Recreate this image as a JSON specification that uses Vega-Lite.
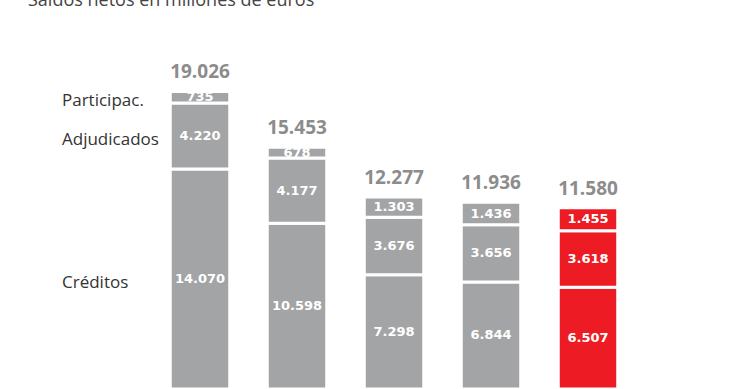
{
  "$schema": "https://vega.github.io/schema/vega-lite/v6.json",
  "width": 740,
  "height": 389,
  "autosize": {"type": "none"},
  "padding": 0,
  "background": "white",
  "title": {
    "text": "Saldos netos en millones de euros",
    "anchor": "start",
    "orient": "top",
    "frame": "group",
    "offset": 0,
    "baseline": "alphabetic",
    "dx": 28,
    "dy": 24,
    "fontSize": 18,
    "font": "Open Sans",
    "fontWeight": "normal",
    "color": "#444444"
  },
  "config": {
    "view": {"stroke": null},
    "locale": {"number": {"decimal": ",", "thousands": ".", "grouping": [3], "currency": ["", " €"]}}
  },
  "datasets": {
    "segmentos": [
      {"periodo": "1", "tipo": "Créditos", "orden": 1, "valor": 14070, "destacado": "no"},
      {"periodo": "1", "tipo": "Adjudicados", "orden": 2, "valor": 4220, "destacado": "no"},
      {"periodo": "1", "tipo": "Participac.", "orden": 3, "valor": 735, "destacado": "no"},
      {"periodo": "2", "tipo": "Créditos", "orden": 1, "valor": 10598, "destacado": "no"},
      {"periodo": "2", "tipo": "Adjudicados", "orden": 2, "valor": 4177, "destacado": "no"},
      {"periodo": "2", "tipo": "Participac.", "orden": 3, "valor": 678, "destacado": "no"},
      {"periodo": "3", "tipo": "Créditos", "orden": 1, "valor": 7298, "destacado": "no"},
      {"periodo": "3", "tipo": "Adjudicados", "orden": 2, "valor": 3676, "destacado": "no"},
      {"periodo": "3", "tipo": "Participac.", "orden": 3, "valor": 1303, "destacado": "no"},
      {"periodo": "4", "tipo": "Créditos", "orden": 1, "valor": 6844, "destacado": "no"},
      {"periodo": "4", "tipo": "Adjudicados", "orden": 2, "valor": 3656, "destacado": "no"},
      {"periodo": "4", "tipo": "Participac.", "orden": 3, "valor": 1436, "destacado": "no"},
      {"periodo": "5", "tipo": "Créditos", "orden": 1, "valor": 6507, "destacado": "si"},
      {"periodo": "5", "tipo": "Adjudicados", "orden": 2, "valor": 3618, "destacado": "si"},
      {"periodo": "5", "tipo": "Participac.", "orden": 3, "valor": 1455, "destacado": "si"}
    ],
    "totales": [
      {"periodo": "1", "total": 19026},
      {"periodo": "2", "total": 15453},
      {"periodo": "3", "total": 12277},
      {"periodo": "4", "total": 11936},
      {"periodo": "5", "total": 11580}
    ]
  },
  "encoding": {
    "x": {
      "field": "periodo",
      "type": "nominal",
      "axis": null,
      "scale": {"range": [151.5, 636.5], "paddingInner": 0.387, "paddingOuter": 0.1935}
    }
  },
  "layer": [
    {
      "data": {"name": "segmentos"},
      "mark": {"type": "bar", "stroke": "white", "strokeWidth": 3, "clip": true},
      "encoding": {
        "y": {"field": "valor", "type": "quantitative", "stack": "zero", "axis": null, "scale": {"domain": [0, 24870], "nice": false}},
        "order": {"field": "orden", "type": "quantitative"},
        "color": {"field": "destacado", "type": "nominal", "legend": null, "scale": {"domain": ["no", "si"], "range": ["#a3a4a6", "#ed1c24"]}}
      }
    },
    {
      "data": {"name": "segmentos"},
      "mark": {"type": "text", "color": "white", "font": "DejaVu Sans", "fontWeight": "bold", "fontSize": 13, "baseline": "middle", "clip": true},
      "encoding": {
        "y": {"field": "valor", "type": "quantitative", "stack": "zero", "bandPosition": 0.5},
        "order": {"field": "orden", "type": "quantitative"},
        "text": {"field": "valor", "type": "quantitative", "format": ",d"}
      }
    },
    {
      "data": {"name": "segmentos"},
      "transform": [{"filter": "datum.periodo === '1'"}],
      "mark": {"type": "text", "color": "#333333", "font": "Open Sans", "fontSize": 17, "align": "left", "baseline": "middle", "dx": -138, "dy": 4},
      "encoding": {
        "y": {"field": "valor", "type": "quantitative", "stack": "zero", "bandPosition": 0.5},
        "order": {"field": "orden", "type": "quantitative"},
        "text": {"field": "tipo", "type": "nominal"}
      }
    },
    {
      "data": {"name": "totales"},
      "mark": {"type": "text", "color": "#8c8c8c", "font": "Open Sans", "fontSize": 19, "fontWeight": "bold", "baseline": "alphabetic", "dy": -13},
      "encoding": {
        "y": {"field": "total", "type": "quantitative"},
        "text": {"field": "total", "type": "quantitative", "format": ",d"}
      }
    }
  ]
}
